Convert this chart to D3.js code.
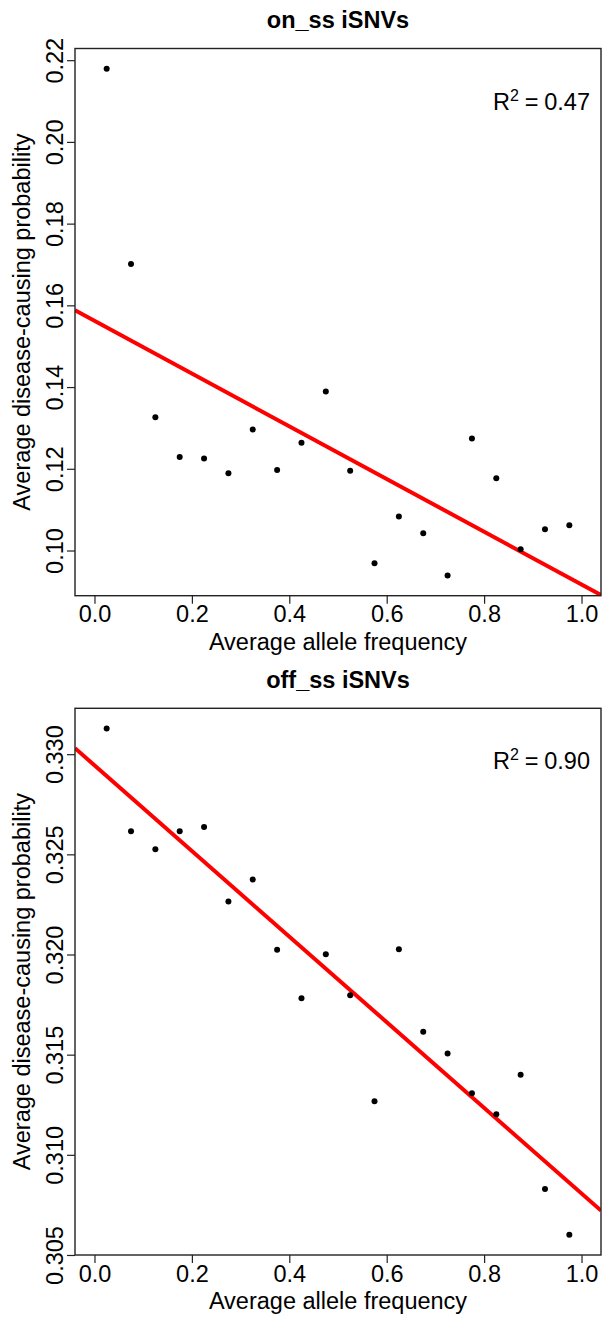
<!DOCTYPE html>
<html>
<head>
<meta charset="utf-8">
<script src="https://cdn.jsdelivr.net/npm/d3@7"></script>
<style>
  body { margin: 0; background: #fff; }
  svg text { font-family: "Liberation Sans", Arial, Helvetica, sans-serif; fill: #000; }
</style>
</head>
<body>
<div id="chart"></div>
<script>
// allele frequency bins (same for both panels)
var freqBins = [0.025, 0.075, 0.125, 0.175, 0.225, 0.275, 0.325, 0.375, 0.425, 0.475,
                0.525, 0.575, 0.625, 0.675, 0.725, 0.775, 0.825, 0.875, 0.925, 0.975];

// average disease-causing probability
var onSsProb = [0.2179, 0.1701, 0.1326, 0.1229, 0.1225, 0.1189, 0.1296, 0.1197, 0.1264, 0.1389,
                0.1195, 0.0969, 0.1083, 0.1042, 0.0939, 0.1274, 0.1177, 0.1003, 0.1052, 0.1062];
var offSsProb = [0.33128, 0.32615, 0.32525, 0.32615, 0.32637, 0.32265, 0.32374, 0.32024, 0.31782, 0.32001,
                 0.31796, 0.31268, 0.32026, 0.31615, 0.31506, 0.31307, 0.31203, 0.31400, 0.30829, 0.30601];

var xTicks = [0, 0.2, 0.4, 0.6, 0.8, 1.0];
var onSsTicks = [0.10, 0.12, 0.14, 0.16, 0.18, 0.20, 0.22];
var offSsTicks = [0.305, 0.310, 0.315, 0.320, 0.325, 0.330];

var panelTitles = ["on_ss iSNVs", "off_ss iSNVs"];
var rSquared = ["0.47", "0.90"];
var xLabel = "Average allele frequency";
var yLabel = "Average disease-causing probability";

var W = 602, H = 1317;
var left = 75, right = 601;

var svg = d3.select("#chart")
  .append("svg")
  .attr("width", W)
  .attr("height", H);

// like R: pad the data range by 4% each side
function padded(ext) {
  var d = (ext[1] - ext[0]) * 0.04;
  return [ext[0] - d, ext[1] + d];
}

function fit(xs, ys) {
  var mx = d3.mean(xs), my = d3.mean(ys);
  var sxy = 0, sxx = 0;
  for (var i = 0; i < xs.length; i++) {
    sxy += (xs[i] - mx) * (ys[i] - my);
    sxx += (xs[i] - mx) * (xs[i] - mx);
  }
  var b = sxy / sxx;
  return { a: my - b * mx, b: b };
}

function drawPanel(idx, top, bottom, probs, yTicks, yFmt) {
  var g = svg.append("g");

  var x = d3.scaleLinear().domain(padded([0, 1])).range([left, right]);
  var y = d3.scaleLinear().domain(padded(d3.extent(probs))).range([bottom, top]);

  var clipId = "clip" + idx;
  svg.append("clipPath").attr("id", clipId)
    .append("rect")
    .attr("x", left).attr("y", top)
    .attr("width", right - left).attr("height", bottom - top);

  // regression line
  var lm = fit(freqBins, probs);
  var xd = x.domain();
  g.append("line")
    .attr("clip-path", "url(#" + clipId + ")")
    .attr("x1", x(xd[0])).attr("y1", y(lm.a + lm.b * xd[0]))
    .attr("x2", x(xd[1])).attr("y2", y(lm.a + lm.b * xd[1]))
    .attr("stroke", "#ff0000")
    .attr("stroke-width", 4);

  // points
  g.append("g")
    .selectAll("circle")
    .data(probs)
    .enter()
    .append("circle")
    .attr("cx", function (d, i) { return x(freqBins[i]); })
    .attr("cy", function (d) { return y(d); })
    .attr("r", 3)
    .attr("fill", "#000");

  // box
  g.append("rect")
    .attr("x", left).attr("y", top)
    .attr("width", right - left).attr("height", bottom - top)
    .attr("fill", "none")
    .attr("stroke", "#222")
    .attr("stroke-width", 1.4);

  // x axis
  var xAxis = g.append("g")
    .attr("transform", "translate(0," + bottom + ")")
    .call(d3.axisBottom(x).tickValues(xTicks).tickSize(8).tickPadding(4)
      .tickFormat(d3.format(".1f")));
  xAxis.select(".domain").remove();
  xAxis.selectAll(".tick line").attr("stroke", "#222").attr("stroke-width", 1.2);
  xAxis.selectAll(".tick text")
    .attr("y", 26.5).attr("dy", null)
    .attr("font-size", "23.5px")
    .attr("font-family", "Liberation Sans, Arial, sans-serif");

  // y axis, labels parallel to the axis
  var yAxis = g.append("g")
    .attr("transform", "translate(" + left + ",0)")
    .call(d3.axisLeft(y).tickValues(yTicks).tickSize(8).tickFormat(d3.format(yFmt)));
  yAxis.select(".domain").remove();
  yAxis.selectAll(".tick line").attr("stroke", "#222").attr("stroke-width", 1.2);
  yAxis.selectAll(".tick text")
    .attr("x", null).attr("dy", null)
    .attr("transform", "translate(-12,0) rotate(-90)")
    .attr("text-anchor", "middle")
    .attr("font-size", "23.5px")
    .attr("font-family", "Liberation Sans, Arial, sans-serif");

  // title
  g.append("text")
    .attr("x", (left + right) / 2)
    .attr("y", top - 20.5)
    .attr("text-anchor", "middle")
    .attr("font-weight", "bold")
    .attr("font-size", "23.5px")
    .text(panelTitles[idx]);

  // axis titles
  g.append("text")
    .attr("x", (left + right) / 2)
    .attr("y", bottom + 54)
    .attr("text-anchor", "middle")
    .attr("font-size", "23.5px")
    .text(xLabel);

  g.append("text")
    .attr("transform", "translate(30," + (top + bottom) / 2 + ") rotate(-90)")
    .attr("text-anchor", "middle")
    .attr("font-size", "23.5px")
    .text(yLabel);

  // R^2 annotation
  var r2 = g.append("text")
    .attr("x", 590)
    .attr("y", top + 61)
    .attr("text-anchor", "end")
    .attr("font-size", "23.5px");
  r2.append("tspan").text("R");
  r2.append("tspan").attr("dy", -9).attr("font-size", "16px").text("2");
  r2.append("tspan").attr("dy", 9).text("\u2005=\u20050" + rSquared[idx].slice(1));
}

drawPanel(0, 48.5, 595.7, onSsProb, onSsTicks, ".2f");
drawPanel(1, 708.3, 1255, offSsProb, offSsTicks, ".3f");
</script>
</body>
</html>
